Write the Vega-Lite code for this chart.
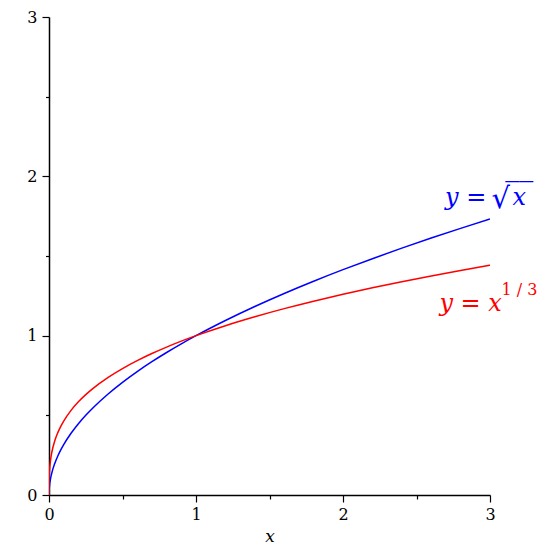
{
  "$schema": "https://vega.github.io/schema/vega-lite/v6.json",
  "width": 441,
  "height": 478,
  "autosize": {"type": "none"},
  "padding": {"left": 49, "top": 17, "right": 65, "bottom": 60},
  "background": "white",
  "config": {
    "view": {"stroke": null},
    "axis": {
      "grid": false,
      "domainColor": "#000000",
      "domainWidth": 1.5,
      "tickColor": "#000000",
      "tickWidth": 1.2,
      "labelFont": "DejaVu Serif",
      "labelFontSize": 16,
      "labelColor": "#000000",
      "labelFlush": false,
      "titleFont": "DejaVu Serif",
      "titleFontStyle": "italic",
      "titleFontWeight": "normal",
      "titleFontSize": 17,
      "titleColor": "#000000"
    }
  },
  "datasets": {
    "curves": [
      {"x": 0, "y": 0, "f": "sqrt"},
      {"x": 0.0001, "y": 0.01, "f": "sqrt"},
      {"x": 0.0003, "y": 0.0173, "f": "sqrt"},
      {"x": 0.001, "y": 0.0316, "f": "sqrt"},
      {"x": 0.002, "y": 0.0447, "f": "sqrt"},
      {"x": 0.005, "y": 0.0707, "f": "sqrt"},
      {"x": 0.01, "y": 0.1, "f": "sqrt"},
      {"x": 0.02, "y": 0.1414, "f": "sqrt"},
      {"x": 0.04, "y": 0.2, "f": "sqrt"},
      {"x": 0.06, "y": 0.2449, "f": "sqrt"},
      {"x": 0.08, "y": 0.2828, "f": "sqrt"},
      {"x": 0.1, "y": 0.3162, "f": "sqrt"},
      {"x": 0.15, "y": 0.3873, "f": "sqrt"},
      {"x": 0.2, "y": 0.4472, "f": "sqrt"},
      {"x": 0.25, "y": 0.5, "f": "sqrt"},
      {"x": 0.3, "y": 0.5477, "f": "sqrt"},
      {"x": 0.4, "y": 0.6325, "f": "sqrt"},
      {"x": 0.5, "y": 0.7071, "f": "sqrt"},
      {"x": 0.6, "y": 0.7746, "f": "sqrt"},
      {"x": 0.7, "y": 0.8367, "f": "sqrt"},
      {"x": 0.8, "y": 0.8944, "f": "sqrt"},
      {"x": 0.9, "y": 0.9487, "f": "sqrt"},
      {"x": 1.0, "y": 1.0, "f": "sqrt"},
      {"x": 1.2, "y": 1.0954, "f": "sqrt"},
      {"x": 1.4, "y": 1.1832, "f": "sqrt"},
      {"x": 1.6, "y": 1.2649, "f": "sqrt"},
      {"x": 1.8, "y": 1.3416, "f": "sqrt"},
      {"x": 2.0, "y": 1.4142, "f": "sqrt"},
      {"x": 2.2, "y": 1.4832, "f": "sqrt"},
      {"x": 2.4, "y": 1.5492, "f": "sqrt"},
      {"x": 2.6, "y": 1.6125, "f": "sqrt"},
      {"x": 2.8, "y": 1.6733, "f": "sqrt"},
      {"x": 3.0, "y": 1.7321, "f": "sqrt"},
      {"x": 0, "y": 0, "f": "cbrt"},
      {"x": 0.0001, "y": 0.0464, "f": "cbrt"},
      {"x": 0.0003, "y": 0.0669, "f": "cbrt"},
      {"x": 0.001, "y": 0.1, "f": "cbrt"},
      {"x": 0.002, "y": 0.126, "f": "cbrt"},
      {"x": 0.005, "y": 0.171, "f": "cbrt"},
      {"x": 0.01, "y": 0.2154, "f": "cbrt"},
      {"x": 0.02, "y": 0.2714, "f": "cbrt"},
      {"x": 0.04, "y": 0.342, "f": "cbrt"},
      {"x": 0.06, "y": 0.3915, "f": "cbrt"},
      {"x": 0.08, "y": 0.4309, "f": "cbrt"},
      {"x": 0.1, "y": 0.4642, "f": "cbrt"},
      {"x": 0.15, "y": 0.5313, "f": "cbrt"},
      {"x": 0.2, "y": 0.5848, "f": "cbrt"},
      {"x": 0.25, "y": 0.63, "f": "cbrt"},
      {"x": 0.3, "y": 0.6694, "f": "cbrt"},
      {"x": 0.4, "y": 0.7368, "f": "cbrt"},
      {"x": 0.5, "y": 0.7937, "f": "cbrt"},
      {"x": 0.6, "y": 0.8434, "f": "cbrt"},
      {"x": 0.7, "y": 0.8879, "f": "cbrt"},
      {"x": 0.8, "y": 0.9283, "f": "cbrt"},
      {"x": 0.9, "y": 0.9655, "f": "cbrt"},
      {"x": 1.0, "y": 1.0, "f": "cbrt"},
      {"x": 1.2, "y": 1.0627, "f": "cbrt"},
      {"x": 1.4, "y": 1.1187, "f": "cbrt"},
      {"x": 1.6, "y": 1.1696, "f": "cbrt"},
      {"x": 1.8, "y": 1.2164, "f": "cbrt"},
      {"x": 2.0, "y": 1.2599, "f": "cbrt"},
      {"x": 2.2, "y": 1.3006, "f": "cbrt"},
      {"x": 2.4, "y": 1.3389, "f": "cbrt"},
      {"x": 2.6, "y": 1.3751, "f": "cbrt"},
      {"x": 2.8, "y": 1.4095, "f": "cbrt"},
      {"x": 3.0, "y": 1.4422, "f": "cbrt"}
    ]
  },
  "layer": [
    {
      "data": {"name": "curves"},
      "mark": {"type": "line", "strokeWidth": 1.5, "interpolate": "monotone", "clip": true},
      "encoding": {
        "x": {"field": "x", "type": "quantitative", "scale": {"domain": [0, 3], "nice": false},
              "axis": {"values": [0, 0.5, 1, 1.5, 2, 2.5, 3],
                       "tickSize": {"condition": {"test": "datum.value % 1 === 0", "value": 7}, "value": 4},
                       "labelExpr": "datum.value % 1 === 0 ? format(datum.value, 'd') : ''",
                       "labelPadding": 4, "title": "x", "titlePadding": 6}},
        "y": {"field": "y", "type": "quantitative", "scale": {"domain": [0, 3], "nice": false},
              "axis": {"values": [0, 0.5, 1, 1.5, 2, 2.5, 3],
                       "tickSize": {"condition": {"test": "datum.value % 1 === 0", "value": 7}, "value": 3.5},
                       "labelExpr": "datum.value % 1 === 0 ? format(datum.value, 'd') : ''",
                       "labelPadding": 5, "title": null}},
        "color": {"field": "f", "type": "nominal", "scale": {"domain": ["sqrt", "cbrt"], "range": ["#0000ff", "#ff0000"]}, "legend": null},
        "detail": {"field": "f"}
      }
    },
    {
      "data": {"values": [{"x": 2.694, "y": 1.8205, "label": "y ="}]},
      "mark": {"type": "text", "align": "left", "baseline": "alphabetic", "font": "DejaVu Serif", "fontStyle": "italic", "fontSize": 24, "color": "#0000ff"},
      "encoding": {
        "x": {"field": "x", "type": "quantitative"},
        "y": {"field": "y", "type": "quantitative"},
        "text": {"field": "label"}
      }
    },
    {
      "data": {"values": [{"x": 3.01, "y": 1.80, "label": "√"}]},
      "mark": {"type": "text", "align": "left", "baseline": "alphabetic", "font": "DejaVu Serif", "fontSize": 29, "color": "#0000ff"},
      "encoding": {
        "x": {"field": "x", "type": "quantitative"},
        "y": {"field": "y", "type": "quantitative"},
        "text": {"field": "label"}
      }
    },
    {
      "data": {"values": [{"x": 3.153, "y": 1.8205, "label": "x"}]},
      "mark": {"type": "text", "align": "left", "baseline": "alphabetic", "font": "DejaVu Serif", "fontStyle": "italic", "fontSize": 24, "color": "#0000ff"},
      "encoding": {
        "x": {"field": "x", "type": "quantitative"},
        "y": {"field": "y", "type": "quantitative"},
        "text": {"field": "label"}
      }
    },
    {
      "data": {"values": [{"x": 3.103, "y": 1.842, "label": "‾‾"}]},
      "mark": {"type": "text", "align": "left", "baseline": "alphabetic", "font": "DejaVu Serif", "fontSize": 28, "color": "#0000ff"},
      "encoding": {
        "x": {"field": "x", "type": "quantitative"},
        "y": {"field": "y", "type": "quantitative"},
        "text": {"field": "label"}
      }
    },
    {
      "data": {"values": [{"x": 2.656, "y": 1.155, "label": "y = x"}]},
      "mark": {"type": "text", "align": "left", "baseline": "alphabetic", "font": "DejaVu Serif", "fontStyle": "italic", "fontSize": 24, "color": "#ff0000"},
      "encoding": {
        "x": {"field": "x", "type": "quantitative"},
        "y": {"field": "y", "type": "quantitative"},
        "text": {"field": "label"}
      }
    },
    {
      "data": {"values": [{"x": 3.078, "y": 1.2555, "label": "1 / 3"}]},
      "mark": {"type": "text", "align": "left", "baseline": "alphabetic", "font": "DejaVu Serif", "fontSize": 16, "color": "#ff0000"},
      "encoding": {
        "x": {"field": "x", "type": "quantitative"},
        "y": {"field": "y", "type": "quantitative"},
        "text": {"field": "label"}
      }
    }
  ]
}
